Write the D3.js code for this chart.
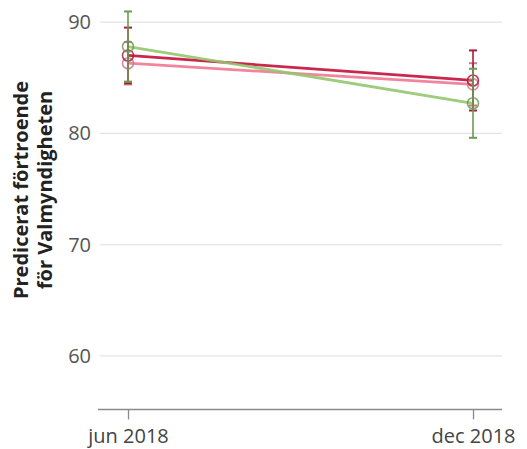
<!DOCTYPE html>
<html>
<head>
<meta charset="utf-8">
<script src="https://cdn.jsdelivr.net/npm/d3@7"></script>
<style>
  body { margin: 0; background: #fff; }
  svg { display: block; }
</style>
</head>
<body>
<div id="chart"></div>
<script>
// chart data
const periods = ['jun 2018', 'dec 2018'];
const seriesNames = ['pink', 'red', 'green'];
const pinkValues = [86.3, 84.4];
const pinkErr = [1.9, 1.9];
const redValues = [87.0, 84.75];
const redErr = [2.5, 2.7];
const greenValues = [87.8, 82.7];
const greenErr = [3.15, 3.1];
const yTicks = [60, 70, 80, 90];

const width = 527, height = 449;
const font = 'Open Sans, sans-serif';

const svg = d3.select('#chart').append('svg')
    .attr('width', width)
    .attr('height', height);

const x = d3.scalePoint()
    .domain(periods)
    .range([128, 473]);

const y = d3.scaleLinear()
    .domain([55.2, 91])
    .range([409.4, 10.9]);

// horizontal grid lines
svg.append('g')
    .selectAll('line')
    .data(yTicks)
    .enter().append('line')
    .attr('x1', 100).attr('x2', 502)
    .attr('y1', d => y(d)).attr('y2', d => y(d))
    .style('stroke', '#e3e3e3')
    .style('stroke-width', 1.2);

// y tick labels
svg.append('g')
    .selectAll('text')
    .data(yTicks)
    .enter().append('text')
    .attr('x', 91)
    .attr('y', d => y(d))
    .attr('dy', '0.35em')
    .attr('text-anchor', 'end')
    .style('font-family', font)
    .style('font-size', '20px')
    .style('fill', '#555')
    .text(d => d);

// x axis
const xAxis = svg.append('g')
    .attr('transform', `translate(0,${y(55.2)})`)
    .call(d3.axisBottom(x).tickSize(10).tickPadding(9));
xAxis.select('.domain')
    .attr('d', 'M98,0H502')
    .style('stroke', '#8a8a8a')
    .style('stroke-width', 1.5);
xAxis.selectAll('.tick line')
    .style('stroke', '#8a8a8a')
    .style('stroke-width', 1.3);
xAxis.selectAll('.tick text')
    .style('font-family', font)
    .style('font-size', '20px')
    .style('fill', '#444');

// y axis title
svg.append('text')
    .attr('transform', 'translate(28,190) rotate(-90)')
    .attr('text-anchor', 'middle')
    .style('font-family', font)
    .style('font-size', '20px')
    .style('font-weight', 'bold')
    .style('fill', '#222')
    .selectAll('tspan')
    .data(['Predicerat förtroende', 'för Valmyndigheten'])
    .enter().append('tspan')
    .attr('x', 0)
    .attr('dy', (d, i) => i === 0 ? 0 : 24)
    .text(d => d);

const series = [
    { name: 'pink', values: pinkValues, err: pinkErr, line: '#f07892', mark: '#c97a8a' },
    { name: 'red', values: redValues, err: redErr, line: '#c3103a', mark: '#a51e3a' },
    { name: 'green', values: greenValues, err: greenErr, line: '#92c76e', mark: '#6d9a55' }
];

const lineGen = d3.line()
    .x((d, i) => x(periods[i]))
    .y(d => y(d));

// lines
series.forEach(s => {
    svg.append('path')
        .datum(s.values)
        .attr('d', lineGen)
        .style('fill', 'none')
        .style('stroke', s.line)
        .style('stroke-width', 2.8)
        .style('opacity', 0.9);
});

// error bars and points
series.forEach(s => {
    const g = svg.append('g');
    const pts = s.values.map((v, i) => ({ x: x(periods[i]), v: v, e: s.err[i] }));

    g.selectAll('.bar')
        .data(pts)
        .enter().append('line')
        .attr('x1', d => d.x).attr('x2', d => d.x)
        .attr('y1', d => y(d.v + d.e)).attr('y2', d => y(d.v - d.e))
        .style('stroke', s.mark)
        .style('stroke-width', 1.6);

    [1, -1].forEach(sign => {
        g.selectAll('.cap' + sign)
            .data(pts)
            .enter().append('line')
            .attr('x1', d => d.x - 4).attr('x2', d => d.x + 4)
            .attr('y1', d => y(d.v + sign * d.e)).attr('y2', d => y(d.v + sign * d.e))
            .style('stroke', s.mark)
            .style('stroke-width', 2);
    });

    g.selectAll('circle')
        .data(pts)
        .enter().append('circle')
        .attr('cx', d => d.x)
        .attr('cy', d => y(d.v))
        .attr('r', 5.5)
        .style('fill', 'none')
        .style('stroke', s.mark)
        .style('stroke-width', 1.6)
        .style('opacity', 0.85);
});
</script>
</body>
</html>
